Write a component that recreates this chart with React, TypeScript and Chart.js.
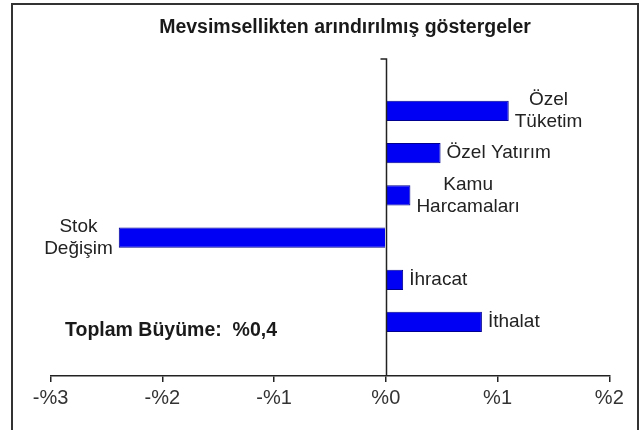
import React, { useEffect, useRef } from "react";
import { Chart, registerables } from "chart.js";

Chart.register(...registerables);

const categories: string[][] = [
  ["Özel", "Tüketim"],
  ["Özel Yatırım"],
  ["Kamu", "Harcamaları"],
  ["Stok", "Değişim"],
  ["İhracat"],
  ["İthalat"],
];
const values: number[] = [1.1, 0.49, 0.22, -2.39, 0.155, 0.86];
const xTicks: number[] = [-3, -2, -1, 0, 1, 2];
const titleText = "Mevsimsellikten arındırılmış göstergeler";
const noteText = "Toplam Büyüme:  %0,4";

const FONT = '"Liberation Sans", Arial, sans-serif';

const decorPlugin = {
  id: "decor",
  beforeDraw(chart: any) {
    const ctx = chart.ctx;
    ctx.save();
    ctx.fillStyle = "#ffffff";
    ctx.fillRect(0, 0, chart.width, chart.height);
    ctx.strokeStyle = "#333333";
    ctx.lineWidth = 2;
    ctx.strokeRect(12, 4, 626, 440);
    ctx.restore();
  },
  afterDatasetsDraw(chart: any) {
    const ctx = chart.ctx;
    const xs = chart.scales.x;
    const area = chart.chartArea;
    const x0 = Math.round(xs.getPixelForValue(0)) + 0.5;
    ctx.save();
    ctx.strokeStyle = "#222222";
    ctx.lineWidth = 1.5;
    ctx.beginPath();
    ctx.moveTo(x0 - 6, area.top);
    ctx.lineTo(x0, area.top);
    ctx.lineTo(x0, area.bottom);
    ctx.stroke();

    const meta = chart.getDatasetMeta(0);
    ctx.fillStyle = "#222222";
    ctx.font = `19px ${FONT}`;
    ctx.textBaseline = "middle";
    const lineH = 22;
    meta.data.forEach((el: any, i: number) => {
      const lines = categories[i];
      const v = values[i];
      const widths = lines.map((l) => ctx.measureText(l).width);
      const maxW = Math.max(...widths);
      const gap = 6;
      const cx = v >= 0 ? el.x + gap + maxW / 2 : el.x - gap - maxW / 2;
      const startY = el.y - ((lines.length - 1) * lineH) / 2;
      ctx.textAlign = "center";
      lines.forEach((l, k) => {
        ctx.fillText(l, cx, startY + k * lineH);
      });
    });

    ctx.font = `bold 19.5px ${FONT}`;
    ctx.textAlign = "center";
    ctx.fillStyle = "#1a1a1a";
    ctx.fillText(titleText, 345, 28);

    ctx.textAlign = "left";
    ctx.fillText(noteText, 65, 331);
    ctx.restore();
  },
};

export default function App() {
  const ref = useRef<HTMLCanvasElement | null>(null);
  useEffect(() => {
    document.body.style.margin = "0";
    if (!ref.current) return;
    const chart = new Chart(ref.current, {
      type: "bar",
      data: {
        datasets: [
          {
            data: values.map((v, i) => ({ x: v, y: i })) as any,
            backgroundColor: "#0000f5",
            borderColor: "#000090",
            borderWidth: 1,
            categoryPercentage: 1,
            barPercentage: 0.48,
          },
        ],
      },
      options: {
        indexAxis: "y",
        animation: false,
        responsive: false,
        layout: { padding: { left: 50.6, right: 33.7, top: 59, bottom: 0 } },
        plugins: {
          legend: { display: false },
          tooltip: { enabled: false },
          title: { display: false },
        },
        scales: {
          x: {
            type: "linear",
            min: xTicks[0],
            max: xTicks[xTicks.length - 1],
            offset: false,
            afterFit(scale: any) {
              scale.height = 54;
            },
            afterBuildTicks(scale: any) {
              scale.ticks = xTicks.map((v) => ({ value: v }));
            },
            grid: {
              display: true,
              offset: false,
              drawOnChartArea: false,
              drawTicks: true,
              tickLength: 6,
              color: "#222222",
              lineWidth: 1.5,
            },
            border: { display: true, color: "#222222", width: 1.5 },
            ticks: {
              padding: 4,
              color: "#333333",
              font: { size: 20, family: FONT },
              callback: (v: any) => (Number(v) < 0 ? "-%" + -Number(v) : "%" + Number(v)),
            },
          },
          y: {
            type: "linear",
            reverse: true,
            offset: false,
            grid: { offset: false },
            min: -1.23,
            max: 6.28,
            display: false,
          },
        },
      },
      plugins: [decorPlugin],
    } as any);
    return () => chart.destroy();
  }, []);
  return (
    <div style={{ width: 643, height: 430, position: "relative" }}>
      <canvas ref={ref} width={643} height={430} style={{ display: "block", width: 643, height: 430 }} />
    </div>
  );
}
